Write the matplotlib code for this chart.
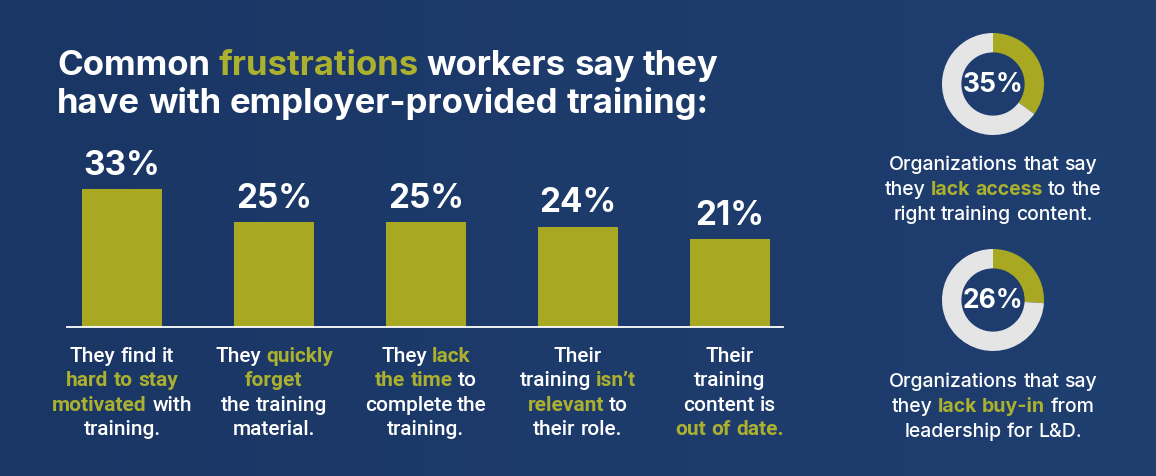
import numpy as np
import matplotlib
matplotlib.use("Agg")
import matplotlib.pyplot as plt
from matplotlib.colors import LinearSegmentedColormap

W, H, DPI = 1156, 477, 100

NAVY_L = "#1a3665"
NAVY_R = "#1f3f70"
OLIVE = "#a8a823"
HILITE = "#abb02e"
RING = "#e5e5e5"
TITLE_FONT = "Inter"
BODY_FONT = "Roboto"
SIDE_FONT = "Inter"

# text with *highlighted* parts
title_lines = [
    "Common *frustrations* workers say they",
    "have with employer-provided training:",
]
bar_values = [33, 25, 25, 24, 21]
bar_labels = [
    ["They find it", "*hard to stay*", "*motivated* with", "training."],
    ["They *quickly*", "*forget*", "the training", "material."],
    ["They *lack*", "*the time* to", "complete the", "training."],
    ["Their", "training *isn’t*", "*relevant* to", "their role."],
    ["Their", "training", "content is", "*out of date.*"],
]
donut_values = [35, 26]
donut_labels = [
    ["Organizations that say", "they *lack access* to the", "right training content."],
    ["Organizations that say", "they *lack buy-in* from", "leadership for L&D."],
]

fig = plt.figure(figsize=(W / DPI, H / DPI), dpi=DPI)
bg = fig.add_axes([0, 0, 1, 1])
grad = np.linspace(0, 1, 256)[None, :]
bg.imshow(grad, aspect="auto", extent=[0, 1, 0, 1],
          cmap=LinearSegmentedColormap.from_list("bg", [NAVY_L, NAVY_R]))
bg.set_axis_off()

renderer = fig.canvas.get_renderer()


def fx(x, y):
    # pixel coords measured from the top-left corner -> figure fraction
    return x / W, 1 - y / H


def width_of(s, **kw):
    t = fig.text(0, 0, s, **kw)
    w = t.get_window_extent(renderer).width
    t.remove()
    return w


def rich_line(x, y, line, size, family, weight="normal", hi_weight="bold",
              ha="center", color="white"):
    words = []
    for i, part in enumerate(line.split("*")):
        for word in part.split():
            words.append((word, i % 2 == 1))
    space = width_of("a a", size=size, family=family, weight=weight) - \
        width_of("aa", size=size, family=family, weight=weight)
    texts = []
    for word, hi in words:
        t = fig.text(0, 0, word, size=size, family=family,
                     weight=hi_weight if hi else weight,
                     color=HILITE if hi else color, va="baseline", ha="left")
        texts.append((t, t.get_window_extent(renderer).width))
    total = sum(w for _, w in texts) + space * (len(texts) - 1)
    cur = x - total / 2 if ha == "center" else x
    for t, w in texts:
        t.set_position(fx(cur, y))
        cur += w + space


# title
for i, line in enumerate(title_lines):
    rich_line(57, 75 + i * 38, line, 25, TITLE_FONT, weight="bold", ha="left")

# bars
left, right, base = 67, 783, 328
ax_h = 180
ax = fig.add_axes([left / W, 1 - base / H, (right - left) / W, ax_h / H])
ax.patch.set_alpha(0)
x = np.arange(len(bar_values))
ax.bar(x, bar_values, width=0.526, color=OLIVE)
ax.set_xlim(-0.362, 4.35)
ax.set_ylim(0, 33 * ax_h / 138)
for sp in ["top", "left", "right"]:
    ax.spines[sp].set_visible(False)
ax.spines["bottom"].set_color("white")
ax.spines["bottom"].set_linewidth(1.3)
ax.set_xticks([])
ax.set_yticks([])
for xi, v in zip(x, bar_values):
    ax.annotate(f"{v}%", (xi, v), xytext=(0, 11), textcoords="offset points",
                ha="center", va="baseline", color="white", size=24,
                weight="bold", family=TITLE_FONT)

# category labels under bars
px_per_unit = (right - left) / (4.35 + 0.362)
for i, lines in enumerate(bar_labels):
    cx = left + (i + 0.362) * px_per_unit
    for j, line in enumerate(lines):
        rich_line(cx, 362 + j * 24.5, line, 15, BODY_FONT, weight="medium",
                  hi_weight="bold")

# donuts
dcx, r = 993, 51
dcys = [85, 301]
label_base = [170, 387]
for val, cy, lines, lb in zip(donut_values, dcys, donut_labels, label_base):
    x0, y0 = fx(dcx - r, cy + r)
    dax = fig.add_axes([x0, y0, 2 * r / W, 2 * r / H])
    dax.pie([val, 100 - val], colors=[OLIVE, RING], startangle=90,
            counterclock=False, radius=1,
            wedgeprops=dict(width=0.38, linewidth=0))
    dax.set_xlim(-1, 1)
    dax.set_ylim(-1, 1)
    dax.text(0, 0, f"{val}%", ha="center", va="center", color="white",
             size=19, weight="bold", family=TITLE_FONT)
    for j, line in enumerate(lines):
        rich_line(dcx, lb + j * 25, line, 14, SIDE_FONT, weight="medium",
                  hi_weight="bold")

fig.savefig("out.png", dpi=DPI)
